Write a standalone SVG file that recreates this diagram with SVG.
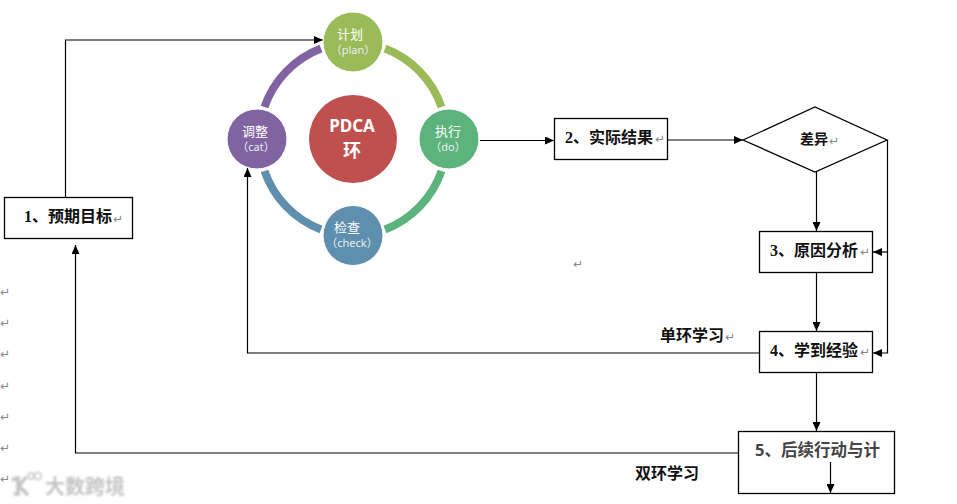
<svg xmlns="http://www.w3.org/2000/svg" width="957" height="504" viewBox="0 0 957 504">
<style>
text{font-family:"Noto Sans","Noto Sans CJK SC",sans-serif}
.box{fill:#fff;stroke:#000;stroke-width:1.3}
.lbl{font-size:16px;font-weight:700;fill:#111;font-family:"Liberation Serif","Noto Sans CJK SC",serif}
.side{font-size:16px;font-weight:700;fill:#111}
.pm{font-size:12px;fill:#888;font-family:"DejaVu Sans",sans-serif}
.cn{font-size:13px;fill:#fff;text-anchor:middle}
.en{font-size:11px;fill:#e8eef0;text-anchor:middle}
.arc{fill:none;stroke-width:8}
.c{stroke:#fff;stroke-width:1}
.l{fill:none;stroke:#000;stroke-width:1.2}
</style>
<defs>
<marker id="a" markerWidth="10" markerHeight="8" refX="9" refY="4" orient="auto" markerUnits="userSpaceOnUse"><path d="M0 0L9 4L0 8Z" fill="#000"/></marker>
<filter id="b" x="-10%" y="-30%" width="120%" height="160%"><feGaussianBlur stdDeviation="0.8"/></filter>
</defs>
<rect width="957" height="504" fill="#fff"/>
<g id="ring">
<path class="arc" stroke="#9bbb59" d="M385 48.500A96 96 0 0 1 441.500 107"/>
<path class="arc" stroke="#5cb47c" d="M441.500 171A96 96 0 0 1 385 229.500"/>
<path class="arc" stroke="#5f8fae" d="M321 229.500A96 96 0 0 1 264.500 171"/>
<path class="arc" stroke="#8064a2" d="M264.500 107A96 96 0 0 1 321 48.500"/>
</g>
<g id="connectors">
<path class="l" d="M65.500 197V40H323" marker-end="url(#a)"/>
<path class="l" d="M480 140.500H554" marker-end="url(#a)"/>
<path class="l" d="M667 140H743" marker-end="url(#a)"/>
<path class="l" d="M816.500 172V231" marker-end="url(#a)"/>
<path class="l" d="M816.500 272V331" marker-end="url(#a)"/>
<path class="l" d="M816.500 373V431" marker-end="url(#a)"/>
<path class="l" d="M887.500 140V353H873" marker-end="url(#a)"/>
<path class="l" d="M887.500 252H873" marker-end="url(#a)"/>
<path class="l" d="M759 353H247.500V168" marker-end="url(#a)"/>
<path class="l" d="M739 453H75.500V245" marker-end="url(#a)"/>
</g>
<g id="n-plan"><circle class="c" cx="353" cy="42" r="30" fill="#9bbb59"/><text class="cn" x="350" y="39">计划</text><text class="en" x="353" y="54">（plan）</text></g>
<g id="n-do"><circle class="c" cx="449" cy="139" r="30" fill="#5cb47c"/><text class="cn" x="448" y="136">执行</text><text class="en" x="448" y="151">（do）</text></g>
<g id="n-check"><circle class="c" cx="353" cy="235.500" r="30" fill="#5f8fae"/><text class="cn" x="347" y="232">检查</text><text class="en" x="352" y="247">（check）</text></g>
<g id="n-cat"><circle class="c" cx="257" cy="139" r="30" fill="#8064a2"/><text class="cn" x="255" y="136">调整</text><text class="en" x="256" y="151">（cat）</text></g>
<g id="n-pdca"><circle cx="353" cy="139" r="44" fill="#c0504d"/><text x="352" y="132" font-size="17" font-weight="700" fill="#fff" text-anchor="middle">PDCA</text><text x="352" y="157" font-size="18" font-weight="700" fill="#fff" text-anchor="middle">环</text></g>
<g id="n1"><rect class="box" x="4.500" y="197.500" width="128" height="41"/><text class="lbl" x="24" y="222">1、预期目标</text><text class="pm" x="113" y="223">↵</text></g>
<g id="n2"><rect class="box" x="554.500" y="118.500" width="113" height="41"/><text class="lbl" x="565" y="143">2、实际结果</text><text class="pm" x="655" y="143">↵</text></g>
<g id="n-diff"><path class="box" d="M743 140L815 107L887 140L815 172Z"/><text x="800" y="144" font-size="14" font-weight="700" fill="#111">差异</text><text class="pm" x="829" y="145">↵</text></g>
<g id="n3"><rect class="box" x="759.500" y="231.500" width="113" height="41"/><text class="lbl" x="770" y="256">3、原因分析</text><text class="pm" x="860" y="256">↵</text></g>
<g id="n4"><rect class="box" x="759.500" y="331.500" width="113" height="41"/><text class="lbl" x="770" y="356">4、学到经验</text><text class="pm" x="860" y="356">↵</text></g>
<g id="n5"><rect class="box" x="738.500" y="431.500" width="156" height="62" stroke="#333"/><text x="755" y="456" font-size="16.500" font-weight="700" fill="#444" font-family="Liberation Serif,Noto Sans CJK SC,serif">5、后续行动与计</text><path class="l" d="M830.500 462V493" stroke="#333" marker-end="url(#a)"/></g>
<g id="labels">
<text class="side" x="660" y="341">单环学习</text><text class="pm" x="725" y="341">↵</text>
<text class="side" x="635" y="479">双环学习</text>
<text class="pm" x="573" y="268">↵</text>
<text class="pm" x="0" y="296">↵</text><text class="pm" x="0" y="327">↵</text><text class="pm" x="0" y="358">↵</text><text class="pm" x="0" y="390">↵</text><text class="pm" x="0" y="421">↵</text><text class="pm" x="0" y="452">↵</text><text class="pm" x="0" y="483">↵</text>
</g>
<g id="watermark" filter="url(#b)" fill="#bbb">
<text x="45" y="494" font-size="20" font-weight="700" fill="#c4c4c4">大数跨境</text>
<path d="M12 480L18 478V494H14M26 477L19 486L28 495" fill="none" stroke="#c4c4c4" stroke-width="3.500"/>
<circle cx="31" cy="476" r="3" fill="none" stroke="#c4c4c4" stroke-width="1.500"/><circle cx="38" cy="476" r="3.500" fill="none" stroke="#c4c4c4" stroke-width="1.500"/>
</g>
</svg>
